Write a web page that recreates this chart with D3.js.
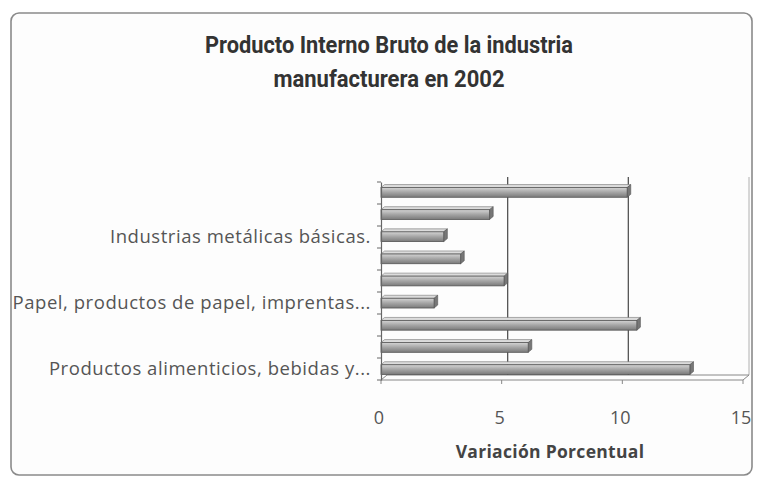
<!DOCTYPE html>
<html><head><meta charset="utf-8">
<script src="https://cdn.jsdelivr.net/npm/d3@7"></script>
<style>
body{margin:0;background:#fff;}
svg{display:block;}
</style></head>
<body><svg id="c" width="757" height="480"></svg>
<script>
// categories bottom -> top
const categories = [
  "Productos alimenticios, bebidas y tabaco",
  "Textiles, prendas de vestir e industria del cuero",
  "Industria de la madera y productos de madera",
  "Papel, productos de papel, imprentas y editoriales",
  "Sustancias químicas, derivados del petróleo, caucho y plástico",
  "Productos de minerales no metálicos",
  "Industrias metálicas básicas.",
  "Productos metálicos, maquinaria y equipo",
  "Otras industrias manufactureras"
];
const tickLabels = [
  "Productos alimenticios, bebidas y...", "", "",
  "Papel, productos de papel, imprentas...", "", "",
  "Industrias metálicas básicas.", "", ""
];
const values = [12.8, 6.1, 10.6, 2.2, 5.1, 3.3, 2.6, 4.5, 10.2];
const xTicks = [0, 5, 10, 15];
const titleLines = ["Producto Interno Bruto de la industria", "manufacturera en 2002"];
const xTitle = "Variación Porcentual";

(function(){
const svg = d3.select("#c");
const defs = svg.append("defs");
const g1 = defs.append("linearGradient").attr("id","bar").attr("x1",0).attr("y1",0).attr("x2",0).attr("y2",1);
g1.append("stop").attr("offset","0%").attr("stop-color","#d4d4d4");
g1.append("stop").attr("offset","50%").attr("stop-color","#a4a4a4");
g1.append("stop").attr("offset","100%").attr("stop-color","#7a7a7a");

// frame
svg.append("rect").attr("x",11).attr("y",13).attr("width",741).attr("height",462)
  .attr("rx",8).attr("fill","#fdfdfd").attr("stroke","#8a8a8a").attr("stroke-width",1.6);

// title
const titleW = [368, 231];
svg.append("g").selectAll("text").data(titleLines).join("text")
  .attr("x",389).attr("y",(d,i)=>53+i*34)
  .attr("text-anchor","middle")
  .attr("font-family","Roboto,'Liberation Sans',sans-serif")
  .attr("font-weight","bold").attr("font-size",23).attr("fill","#333")
  .attr("textLength",(d,i)=>titleW[i]).attr("lengthAdjust","spacingAndGlyphs")
  .text(d=>d);

const depth = {dx:6, dy:-5};
const x = d3.scaleLinear().domain([0,15]).range([381,743]);
const y = d3.scaleBand().domain(d3.range(categories.length).reverse()).range([182,380]).paddingInner(0.56).paddingOuter(0.25);

const yTop = 182, yBot = 380;

// back-plane gridlines
svg.append("g").selectAll("line").data(xTicks.slice(1)).join("line")
  .attr("x1",d=>x(d)+depth.dx).attr("x2",d=>x(d)+depth.dx)
  .attr("y1",yTop+depth.dy).attr("y2",yBot+depth.dy)
  .attr("stroke",d=>d===15?"#b0b0b0":"#555").attr("stroke-width",d=>d===15?1:1.3);
// floor
svg.append("path")
  .attr("d",`M${x(0)},${yBot}L${x(15)},${yBot}L${x(15)+depth.dx},${yBot+depth.dy}M${x(0)},${yBot}L${x(0)+depth.dx},${yBot+depth.dy}L${x(15)+depth.dx},${yBot+depth.dy}`)
  .attr("fill","none").attr("stroke","#888").attr("stroke-width",1);
svg.append("g").selectAll("line").data(xTicks).join("line")
  .attr("x1",d=>x(d)).attr("x2",d=>x(d)).attr("y1",yBot).attr("y2",yBot+4)
  .attr("stroke","#888");

// bars (3D-ish)
const bars = svg.append("g").selectAll("g").data(values).join("g");
bars.append("path")
  .attr("d",(d,i)=>{const yy=y(i), x0=x(0), x1=x(d);
    return `M${x0},${yy}L${x0+depth.dx*0.6},${yy+depth.dy*0.6}L${x1+depth.dx*0.6},${yy+depth.dy*0.6}L${x1},${yy}Z`;})
  .attr("fill","#dcdcdc").attr("stroke","#777").attr("stroke-width",0.6);
bars.append("path")
  .attr("d",(d,i)=>{const yy=y(i), h=y.bandwidth(), x1=x(d);
    return `M${x1},${yy}L${x1+depth.dx*0.6},${yy+depth.dy*0.6}L${x1+depth.dx*0.6},${yy+h+depth.dy*0.6}L${x1},${yy+h}Z`;})
  .attr("fill","#777").attr("stroke","#555").attr("stroke-width",0.6);
bars.append("rect")
  .attr("x",x(0)).attr("y",(d,i)=>y(i))
  .attr("width",d=>x(d)-x(0)).attr("height",y.bandwidth())
  .attr("fill","url(#bar)").attr("stroke","#555").attr("stroke-width",0.8);

// y axis
const yAxis = d3.axisLeft(d3.scaleBand().domain(d3.range(categories.length).reverse()).range([yTop,yBot]))
  .tickSize(0).tickFormat(i=>tickLabels[i]);
const ya = svg.append("g").attr("transform",`translate(${x(0)},0)`).call(yAxis);
ya.select(".domain").attr("stroke","#666").attr("stroke-width",1.2);
ya.selectAll("text").attr("font-family","'Open Sans','Liberation Sans',sans-serif")
  .attr("font-size",18.5).attr("letter-spacing",0.55).attr("fill","#555").attr("dx",-7).attr("dy","0.3em");
svg.append("g").selectAll("line").data(d3.range(categories.length+1)).join("line")
  .attr("x1",x(0)-4).attr("x2",x(0))
  .attr("y1",i=>yTop+i*(yBot-yTop)/categories.length).attr("y2",i=>yTop+i*(yBot-yTop)/categories.length)
  .attr("stroke","#666");

// x tick labels
svg.append("g").selectAll("text").data(xTicks).join("text")
  .attr("x",d=>x(d)-2).attr("y",424).attr("text-anchor","middle")
  .attr("font-family","'Open Sans','Liberation Sans',sans-serif")
  .attr("font-size",18).attr("fill","#555").text(d=>d);

// x title
svg.append("text").attr("x",550).attr("y",458).attr("text-anchor","middle")
  .attr("font-family","'Open Sans','Liberation Sans',sans-serif")
  .attr("font-weight","bold").attr("font-size",17.5).attr("letter-spacing",0.3).attr("fill","#444").text(xTitle);
})();
</script></body></html>
